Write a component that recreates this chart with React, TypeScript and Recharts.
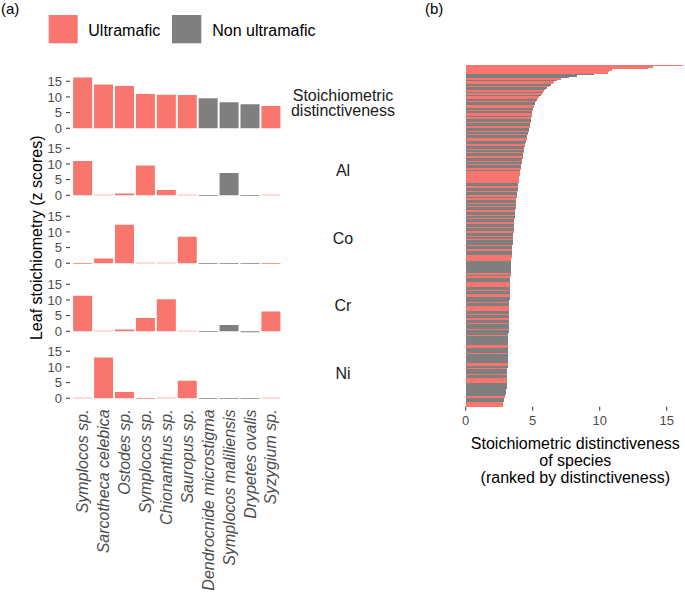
import React from 'react';
import { BarChart, Bar, XAxis, YAxis, Cell } from 'recharts';

const RED = '#F8766D';
const GRAY = '#7F7F7F';
const FONT = '"Liberation Sans", Arial, Helvetica, sans-serif';

// ---------- data: panel (a) ----------
const species = [
  'Symplocos sp.',
  'Sarcotheca celebica',
  'Ostodes sp.',
  'Symplocos sp.',
  'Chionanthus sp.',
  'Sauropus sp.',
  'Dendrocnide microstigma',
  'Symplocos maliliensis',
  'Drypetes ovalis',
  'Syzygium sp.',
];
const speciesGroup = ['U', 'U', 'U', 'U', 'U', 'U', 'N', 'N', 'N', 'U'];
const distinctiveness = [16.2, 14.0, 13.5, 10.9, 10.7, 10.6, 9.6, 8.3, 7.7, 7.1];
const aluminium = [10.9, 0.2, 0.6, 9.5, 1.7, 0.2, -0.25, 7.1, -0.25, 0.2];
const cobalt = [-0.2, 1.5, 12.3, 0.2, 0.2, 8.5, -0.25, -0.2, -0.25, -0.2];
const chromium = [11.3, 0.15, 0.6, 4.2, 10.2, 0.15, -0.25, 2.0, -0.3, 6.3];
const nickel = [0.2, 13.0, 2.0, -0.2, 0.2, 5.6, -0.25, -0.2, -0.25, 0.2];
const panelLabels = [['Stoichiometric', 'distinctiveness'], ['Al'], ['Co'], ['Cr'], ['Ni']];
const panelValues = [distinctiveness, aluminium, cobalt, chromium, nickel];
const yTicksA = [0, 5, 10, 15];
const legendLabels = ['Ultramafic', 'Non ultramafic'];

// ---------- data: panel (b) ----------
const rankedValues = [
  16.2, 14.0, 13.6, 10.9, 10.7, 10.6, 9.6, 8.3, 7.7, 7.1, 6.8, 6.6, 6.5, 6.35, 6.2, 6.05, 5.95, 5.85, 5.78, 5.7,
  5.6, 5.5, 5.4, 5.32, 5.25, 5.2, 5.15, 5.1, 5.06, 5.02, 4.99,
  4.97, 4.95, 4.93, 4.91, 4.9, 4.88, 4.86, 4.84, 4.82, 4.8,
  4.78, 4.75, 4.72, 4.7, 4.67, 4.64, 4.61, 4.58, 4.55, 4.52, 4.49, 4.46, 4.43,
  4.4, 4.38, 4.36, 4.34, 4.32, 4.3, 4.28, 4.26, 4.24, 4.22, 4.2, 4.18, 4.16, 4.14, 4.12, 4.1, 4.08, 4.06, 4.04, 4.02,
  4.0, 3.98, 3.97, 3.95, 3.94, 3.92, 3.91, 3.9, 3.88, 3.87, 3.86, 3.84, 3.83, 3.82, 3.8, 3.79, 3.78, 3.76,
  3.75, 3.74, 3.73, 3.72, 3.71, 3.7, 3.69, 3.68, 3.67, 3.66, 3.65, 3.64, 3.63, 3.62, 3.61, 3.6, 3.59, 3.58, 3.57, 3.57, 3.56, 3.56,
  3.55, 3.54, 3.53, 3.52, 3.51, 3.5, 3.49, 3.48, 3.47, 3.46, 3.45, 3.45, 3.44, 3.43, 3.42, 3.41, 3.4, 3.4, 3.39, 3.38, 3.38, 3.37, 3.37,
  3.36, 3.36, 3.35, 3.35, 3.34, 3.34, 3.33, 3.33, 3.32, 3.32, 3.31, 3.31, 3.3, 3.3, 3.29, 3.29, 3.28, 3.28, 3.27, 3.27,
  3.26, 3.26, 3.26, 3.25, 3.25, 3.25, 3.24, 3.24, 3.24, 3.23, 3.23,
  3.23, 3.22, 3.22, 3.22, 3.21, 3.21, 3.21, 3.2, 3.2, 3.2, 3.2, 3.19, 3.19, 3.19, 3.19, 3.18, 3.18,
  3.18, 3.17, 3.17, 3.17, 3.16, 3.16, 3.16, 3.15, 3.15, 3.14, 3.14, 3.14, 3.13, 3.13, 3.13, 3.12, 3.12, 3.11, 3.11, 3.11,
  3.1, 3.1, 3.09, 3.09, 3.08, 3.08, 3.07, 3.07, 3.06,
  3.06, 3.05, 3.04, 3.02, 3.0, 2.98, 2.95, 2.9, 2.88, 2.86, 2.84, 2.82, 2.81, 2.8,
];
const rankedGroups = (
  'UUUUUUNNNU' + 'NUUNUNNUNU' + 'NUUNUNNUUN' + 'UNUUNUNNUN' + 'NUNNUNUNNU' +
  'UNNUNNUNUN' + 'NUNNUNUNNU' + 'NUUUUUUUUN' + 'NUNNUNNUNU' + 'NNUNUNNUNN' +
  'UNUNNUNNUN' + 'NUNNUNUNNN' + 'UNNUNNNUUU' + 'UNNNNNNNNU' + 'NUNNNUUUNN' +
  'UNNUUNNNUN' + 'NUUUNNUNNU' + 'NNUNNNUNNN' + 'UNNNNNNUUN' + 'NNUNNNNNNU' +
  'UNUNNNUNNU' + 'UUNNNNNNNN' + 'NUNNNUUU'
).split('');
const xTicksB = [0, 5, 10, 15];

// ---------- layout ----------
const W = 685;
const H = 594;
const PX_PER_UNIT = 3.133;
const Y_MIN = -1;
const Y_MAX = 17;
const PANEL_H = (Y_MAX - Y_MIN) * PX_PER_UNIT;
const ZERO_LINES = [128, 195.6, 263.2, 330.8, 398.4];
const A_WIDTH = 300;
const A_PLOT_LEFT = 70;
const A_PLOT_RIGHT = 283.4;
const X_LABEL_H = 190;
const PAD = 10;

const B_TOP = 65;
const B_BOTTOM = 406.7;
const B_LEFT = 465.7;
const B_RIGHT = 682.8;
const B_AXIS_H = 30;

const colorOf = (g: string) => (g === 'U' ? RED : GRAY);

const SpeciesTick = (props: any) => {
  const { x, y, payload } = props;
  return (
    <text
      x={x}
      y={y}
      transform={`rotate(-90, ${x}, ${y})`}
      dy="0.35em"
      textAnchor="end"
      fill="#4D4D4D"
      fontSize={16}
      fontStyle="italic"
      fontFamily={FONT}
    >
      {species[payload.value]}
    </text>
  );
};

const Panel = ({ k }: { k: number }) => {
  const last = k === panelValues.length - 1;
  const rows = panelValues[k].map((v, i) => ({ id: i, v }));
  const top = ZERO_LINES[k] - Y_MAX * PX_PER_UNIT - PAD;
  const h = PANEL_H + 2 * PAD + (last ? X_LABEL_H - PAD : 0);
  return (
    <div style={{ position: 'absolute', left: 0, top, width: A_WIDTH, height: h }}>
      <BarChart
        width={A_WIDTH}
        height={h}
        data={rows}
        margin={{ top: PAD, right: A_WIDTH - A_PLOT_RIGHT, bottom: last ? 0 : PAD, left: A_PLOT_LEFT - 40 }}
        barCategoryGap="5%"
      >
        <XAxis
          dataKey="id"
          type="category"
          hide={!last}
          height={X_LABEL_H}
          padding={{ left: 2.1, right: 2.1 }}
          axisLine={false}
          tickLine={false}
          tickSize={0}
          tickMargin={8}
          interval={0}
          tick={<SpeciesTick />}
        />
        <YAxis
          type="number"
          domain={[Y_MIN, Y_MAX]}
          allowDataOverflow
          ticks={yTicksA}
          interval={0}
          width={40}
          axisLine={false}
          tickLine={{ stroke: '#333333' }}
          tickSize={4}
          tickMargin={4}
          tick={{ fill: '#4D4D4D', fontSize: 13, fontFamily: FONT }}
        />
        <Bar dataKey="v" isAnimationActive={false}>
          {rows.map((r, i) => (
            <Cell key={i} fill={colorOf(speciesGroup[i])} />
          ))}
        </Bar>
      </BarChart>
    </div>
  );
};

const RankedPanel = () => {
  const rows = rankedValues.map((v, i) => ({ rank: i, v }));
  const band = (B_BOTTOM - B_TOP) / rows.length;
  return (
    <div style={{ position: 'absolute', left: 0, top: 0, width: W, height: H }}>
      <BarChart
        layout="vertical"
        width={W}
        height={H}
        data={rows}
        margin={{ top: B_TOP, right: W - B_RIGHT, bottom: H - B_BOTTOM - B_AXIS_H, left: B_LEFT }}
        barCategoryGap={0}
      >
        <XAxis
          type="number"
          domain={[0, 16.2]}
          allowDataOverflow
          ticks={xTicksB}
          interval={0}
          height={B_AXIS_H}
          axisLine={false}
          tickLine={{ stroke: '#333333' }}
          tickSize={4}
          tickMargin={5}
          tick={{ fill: '#4D4D4D', fontSize: 13, fontFamily: FONT }}
        />
        <YAxis type="category" dataKey="rank" hide />
        <Bar dataKey="v" isAnimationActive={false} barSize={band} shapeRendering="crispEdges">
          {rows.map((r, i) => (
            <Cell key={i} fill={colorOf(rankedGroups[i])} />
          ))}
        </Bar>
      </BarChart>
    </div>
  );
};

const Overlay = () => {
  const centers = ZERO_LINES.map((z) => z - Y_MAX * PX_PER_UNIT + PANEL_H / 2);
  return (
    <svg
      width={W}
      height={H}
      style={{ position: 'absolute', left: 0, top: 0, pointerEvents: 'none' }}
      fontFamily={FONT}
    >
      <text x={1} y={14} fontSize={15} fill="#000">(a)</text>
      <text x={425} y={14} fontSize={15} fill="#000">(b)</text>

      <rect x={48.7} y={15} width={29} height={28.3} fill={RED} />
      <text x={88.3} y={36.2} fontSize={16} fill="#000">{legendLabels[0]}</text>
      <rect x={172} y={15} width={29.3} height={28.3} fill={GRAY} />
      <text x={212.3} y={36.2} fontSize={16} fill="#000">{legendLabels[1]}</text>

      {panelLabels.map((lines, k) => {
        const n = lines.length;
        return lines.map((ln, j) => (
          <text
            key={`${k}-${j}`}
            x={343}
            y={centers[k] + 5.7 + (j - (n - 1) / 2) * 15.5}
            fontSize={16}
            textAnchor="middle"
            fill="#1A1A1A"
          >
            {ln}
          </text>
        ));
      })}

      <text
        x={36}
        y={237.8}
        transform="rotate(-90, 36, 237.8)"
        dy="0.35em"
        fontSize={16}
        textAnchor="middle"
        fill="#000"
      >
        Leaf stoichiometry (z scores)
      </text>

      <text x={575.3} y={448.5} fontSize={16} textAnchor="middle" fill="#000">
        Stoichiometric distinctiveness
      </text>
      <text x={575.3} y={465.7} fontSize={16} textAnchor="middle" fill="#000">
        of species
      </text>
      <text x={575.3} y={482.9} fontSize={16} textAnchor="middle" fill="#000">
        (ranked by distinctiveness)
      </text>
    </svg>
  );
};

export default function App() {
  return (
    <div style={{ position: 'absolute', left: 0, top: 0, width: W, height: H, background: '#fff' }}>
      {panelValues.map((_, k) => (
        <Panel key={k} k={k} />
      ))}
      <RankedPanel />
      <Overlay />
    </div>
  );
}
